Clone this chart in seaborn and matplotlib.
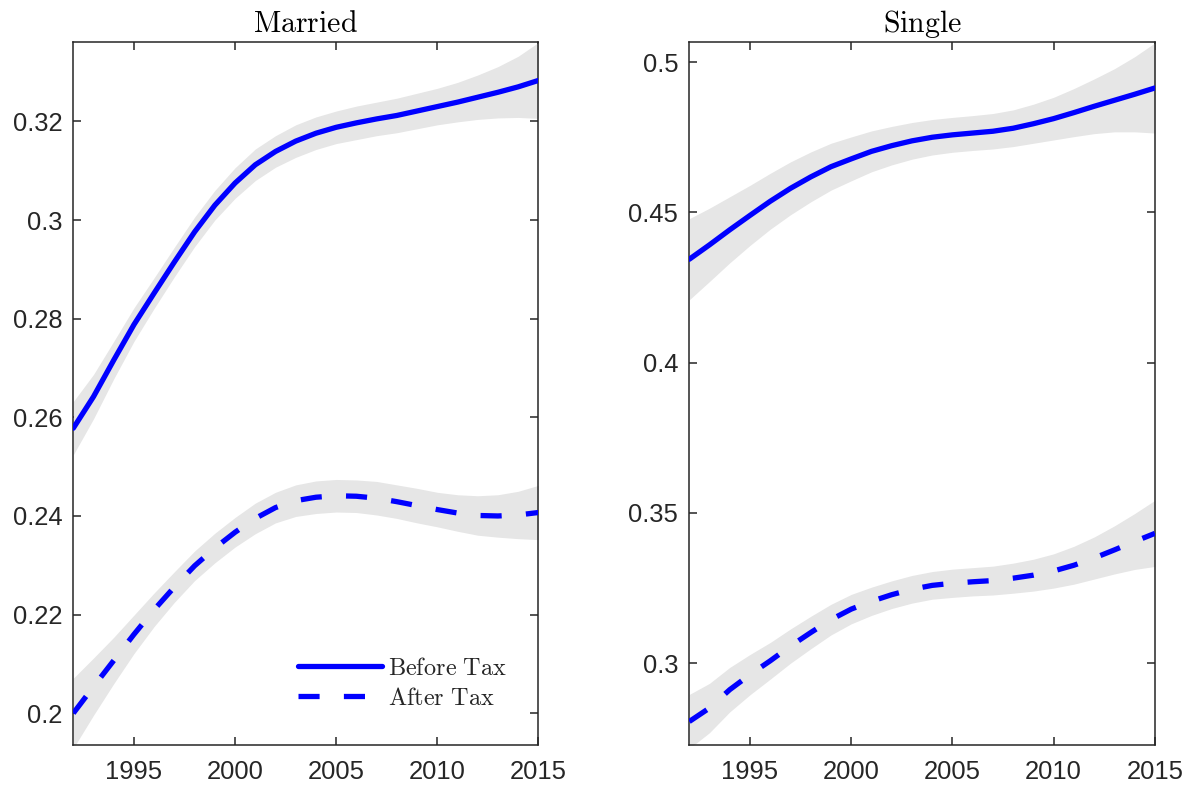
import numpy as np
import pandas as pd
import matplotlib
matplotlib.use("Agg")
import matplotlib.pyplot as plt
import seaborn as sns

# ---- data -----------------------------------------------------------------
years = list(range(1992, 2016))

married_before = [0.2578, 0.2642, 0.2716, 0.2788, 0.2852, 0.2915, 0.2976, 0.3030,
                  0.3075, 0.3112, 0.3139, 0.3160, 0.3176, 0.3188, 0.3197, 0.3205,
                  0.3212, 0.3221, 0.3230, 0.3239, 0.3249, 0.3259, 0.3270, 0.3283]
married_before_hw = [0.0054, 0.0045, 0.0038, 0.0034, 0.0031, 0.0030, 0.0030, 0.0030,
                     0.0031, 0.0032, 0.0032, 0.0033, 0.0033, 0.0033, 0.0034, 0.0034,
                     0.0035, 0.0036, 0.0037, 0.0040, 0.0045, 0.0052, 0.0062, 0.0077]

married_after = [0.2000, 0.2054, 0.2107, 0.2160, 0.2210, 0.2256, 0.2299, 0.2335,
                 0.2367, 0.2395, 0.2417, 0.2431, 0.2438, 0.2441, 0.2440, 0.2436,
                 0.2429, 0.2421, 0.2413, 0.2406, 0.2401, 0.2400, 0.2402, 0.2407]
married_after_hw = [0.0071, 0.0058, 0.0047, 0.0039, 0.0034, 0.0031, 0.0030, 0.0030,
                    0.0030, 0.0031, 0.0031, 0.0032, 0.0033, 0.0033, 0.0033, 0.0034,
                    0.0034, 0.0035, 0.0035, 0.0037, 0.0040, 0.0043, 0.0048, 0.0055]

single_before = [0.4344, 0.4392, 0.4442, 0.4490, 0.4537, 0.4580, 0.4618, 0.4652,
                 0.4678, 0.4703, 0.4722, 0.4738, 0.4750, 0.4758, 0.4764, 0.4770,
                 0.4780, 0.4795, 0.4812, 0.4832, 0.4853, 0.4873, 0.4893, 0.4914]
single_before_hw = [0.0135, 0.0122, 0.0110, 0.0100, 0.0093, 0.0088, 0.0083, 0.0078,
                    0.0073, 0.0068, 0.0064, 0.0061, 0.0059, 0.0058, 0.0058, 0.0059,
                    0.0061, 0.0065, 0.0071, 0.0080, 0.0091, 0.0105, 0.0125, 0.0150]

single_after = [0.2806, 0.2851, 0.2912, 0.2962, 0.3008, 0.3057, 0.3102, 0.3145,
                0.3180, 0.3206, 0.3228, 0.3246, 0.3259, 0.3266, 0.3271, 0.3275,
                0.3283, 0.3293, 0.3307, 0.3326, 0.3350, 0.3377, 0.3405, 0.3432]
single_after_hw = [0.0090, 0.0082, 0.0074, 0.0067, 0.0061, 0.0057, 0.0054, 0.0051,
                   0.0049, 0.0047, 0.0046, 0.0046, 0.0046, 0.0047, 0.0047, 0.0048,
                   0.0050, 0.0053, 0.0057, 0.0063, 0.0070, 0.0080, 0.0093, 0.0110]

xticks = [1995, 2000, 2005, 2010, 2015]
married_yticks = [0.20, 0.22, 0.24, 0.26, 0.28, 0.30, 0.32]
married_yticklabels = ["0.2", "0.22", "0.24", "0.26", "0.28", "0.3", "0.32"]
single_yticks = [0.30, 0.35, 0.40, 0.45, 0.50]
single_yticklabels = ["0.3", "0.35", "0.4", "0.45", "0.5"]

panels = [
    dict(title="Married", before=married_before, before_hw=married_before_hw,
         after=married_after, after_hw=married_after_hw,
         yticks=married_yticks, yticklabels=married_yticklabels,
         ylim=(0.19357, 0.3361), legend=True),
    dict(title="Single", before=single_before, before_hw=single_before_hw,
         after=single_after, after_hw=single_after_hw,
         yticks=single_yticks, yticklabels=single_yticklabels,
         ylim=(0.2728, 0.5067), legend=False),
]

# ---- style ----------------------------------------------------------------
sns.set_theme(style="ticks")
plt.rcParams["font.family"] = ["Liberation Sans", "DejaVu Sans"]
plt.rcParams["mathtext.fontset"] = "cm"

LINE = "#0000ff"
BAND = "#e6e6e6"
AXC = "#262626"
LW = 3.8
DASH = (0, (4.0, 4.6))

fig = plt.figure(figsize=(11.9, 7.89), dpi=100)
positions = [[0.0616, 0.0558, 0.3908, 0.8910],
             [0.5792, 0.0558, 0.3913, 0.8910]]

for pos, p in zip(positions, panels):
    ax = fig.add_axes(pos)
    df = pd.DataFrame({"year": years,
                       "before": p["before"], "before_hw": p["before_hw"],
                       "after": p["after"], "after_hw": p["after_hw"]})

    # confidence bands behind the fitted lines
    for col in ("before", "after"):
        ax.fill_between(df["year"], df[col] - df[col + "_hw"], df[col] + df[col + "_hw"],
                        color=BAND, lw=0, zorder=1)

    sns.lineplot(data=df, x="year", y="before", ax=ax, color=LINE, lw=LW,
                 label=r"$\mathrm{Before\ Tax}$", zorder=3)
    sns.lineplot(data=df, x="year", y="after", ax=ax, color=LINE, lw=LW,
                 linestyle=DASH, label=r"$\mathrm{After\ Tax}$", zorder=3)

    ax.set_xlim(1992, 2015)
    ax.set_ylim(*p["ylim"])
    ax.set_xticks(xticks)
    ax.set_xticklabels([str(t) for t in xticks])
    ax.set_yticks(p["yticks"])
    ax.set_yticklabels(p["yticklabels"])
    ax.set_xlabel("")
    ax.set_ylabel("")
    ax.set_title(r"$\mathrm{%s}$" % p["title"], fontsize=21.5, color="black", pad=7)

    for s in ax.spines.values():
        s.set_visible(True)
        s.set_color(AXC)
        s.set_linewidth(1.1)
    ax.tick_params(axis="both", which="major", direction="in", length=6, width=1.1,
                   color=AXC, labelcolor=AXC, labelsize=18.4,
                   top=True, right=True, labeltop=False, labelright=False)
    ax.tick_params(axis="x", pad=11)
    ax.tick_params(axis="y", pad=8)

    if p["legend"]:
        ax.legend(loc="center left", bbox_to_anchor=(0.483, 0.087), frameon=False,
                  fontsize=17.5, handlelength=3.45, handletextpad=0.25,
                  borderpad=0, borderaxespad=0, labelspacing=0.32)
    elif ax.get_legend() is not None:
        ax.get_legend().remove()

fig.savefig("out.png", dpi=100)
